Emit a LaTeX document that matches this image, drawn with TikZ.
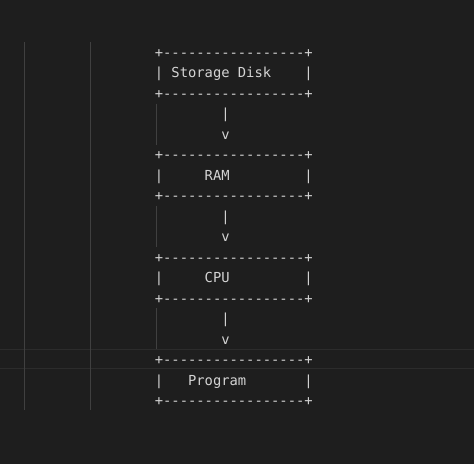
\documentclass[tikz,border=0pt]{standalone}
\usepackage{fontspec}
\setmonofont{DejaVu Sans Mono}
\definecolor{bg}{HTML}{1E1E1E}
\definecolor{codefg}{HTML}{D4D4D4}
\definecolor{guidecol}{HTML}{404040}
\definecolor{linehl}{HTML}{2C2C2C}
\tikzset{
  txt/.style={anchor=base west, inner sep=0pt, outer sep=0pt, text=codefg,
    font=\ttfamily\fontsize{13.8}{16}\selectfont},
  guide/.style={draw=guidecol, line width=1pt},
  curline/.style={draw=linehl, line width=1.3pt}
}
\begin{document}
\begin{tikzpicture}[x=1pt,y=-1pt]
\fill[bg] (0,0) rectangle (474,464);
\useasboundingbox (0,0) rectangle (474,464);
% current line highlight borders
\draw[curline] (0,349.3) -- (474,349.3);
\draw[curline] (0,368.3) -- (474,368.3);
% indent guides
\draw[guide] (24,41.8) -- (24,410.2);
\draw[guide] (90,41.8) -- (90,410.2);
\draw[guide] (156.5,103.6) -- (156.5,144.5);
\draw[guide] (156.5,205.9) -- (156.5,246.8);
\draw[guide] (156.5,308.2) -- (156.5,349);
% Storage Disk box
\node[txt] (r0)  at ({154.85},{57.5+20.47*0}) {+-----------------+};
\node[txt] (r1a) at ({154.85},{57.5+20.47*1}) {|};
\node[txt] (disk) at ({154.85+8.31*2},{57.5+20.47*1}) {Storage Disk};
\node[txt] (r1b) at ({154.85+8.31*18},{57.5+20.47*1}) {|};
\node[txt] (r2)  at ({154.85},{57.5+20.47*2}) {+-----------------+};
% arrow 1
\node[txt] (a1s) at ({154.85+8.31*8},{57.5+20.47*3}) {|};
\node[txt] (a1h) at ({154.85+8.31*8},{57.5+20.47*4}) {v};
% RAM box
\node[txt] (r5)  at ({154.85},{57.5+20.47*5}) {+-----------------+};
\node[txt] (r6a) at ({154.85},{57.5+20.47*6}) {|};
\node[txt] (ram) at ({154.85+8.31*6},{57.5+20.47*6}) {RAM};
\node[txt] (r6b) at ({154.85+8.31*18},{57.5+20.47*6}) {|};
\node[txt] (r7)  at ({154.85},{57.5+20.47*7}) {+-----------------+};
% arrow 2
\node[txt] (a2s) at ({154.85+8.31*8},{57.5+20.47*8}) {|};
\node[txt] (a2h) at ({154.85+8.31*8},{57.5+20.47*9}) {v};
% CPU box
\node[txt] (r10)  at ({154.85},{57.5+20.47*10}) {+-----------------+};
\node[txt] (r11a) at ({154.85},{57.5+20.47*11}) {|};
\node[txt] (cpu)  at ({154.85+8.31*6},{57.5+20.47*11}) {CPU};
\node[txt] (r11b) at ({154.85+8.31*18},{57.5+20.47*11}) {|};
\node[txt] (r12)  at ({154.85},{57.5+20.47*12}) {+-----------------+};
% arrow 3
\node[txt] (a3s) at ({154.85+8.31*8},{57.5+20.47*13}) {|};
\node[txt] (a3h) at ({154.85+8.31*8},{57.5+20.47*14}) {v};
% Program box
\node[txt] (r15)  at ({154.85},{57.5+20.47*15}) {+-----------------+};
\node[txt] (r16a) at ({154.85},{57.5+20.47*16}) {|};
\node[txt] (prog) at ({154.85+8.31*4},{57.5+20.47*16}) {Program};
\node[txt] (r16b) at ({154.85+8.31*18},{57.5+20.47*16}) {|};
\node[txt] (r17)  at ({154.85},{57.5+20.47*17}) {+-----------------+};
\end{tikzpicture}
\end{document}
